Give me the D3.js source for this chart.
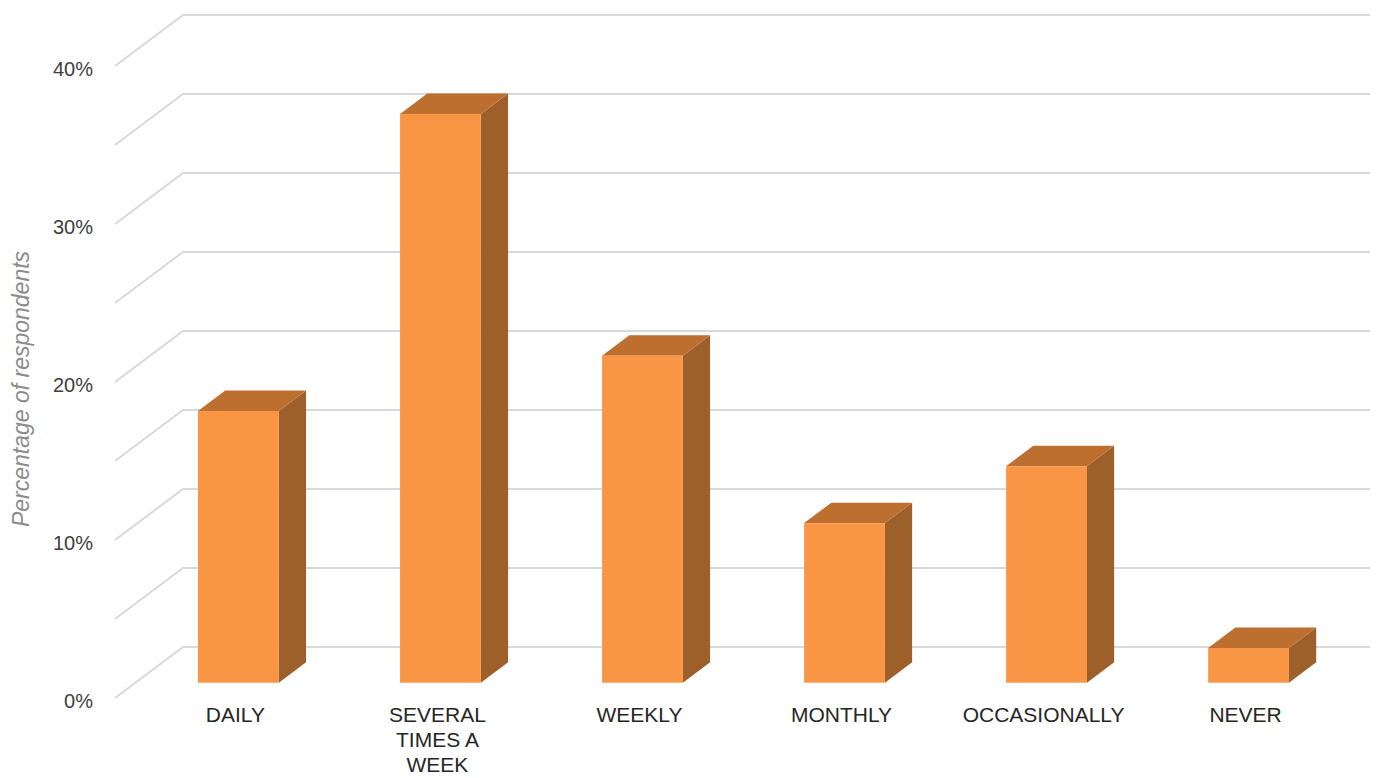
<!DOCTYPE html>
<html>
<head>
<meta charset="utf-8">
<script src="https://cdn.jsdelivr.net/npm/d3@7"></script>
<style>
  html, body { margin: 0; padding: 0; background: #fff; }
  svg { display: block; font-family: "Liberation Sans", Arial, sans-serif; }
</style>
</head>
<body>
<svg id="chart" width="1380" height="778"></svg>
<script>
// Frequency categories and share of respondents (%)
const categories = ["DAILY", "SEVERAL TIMES A WEEK", "WEEKLY", "MONTHLY", "OCCASIONALLY", "NEVER"];
const shares = [17.2, 36.0, 20.7, 10.1, 13.7, 2.2];
const gridValues = [0, 5, 10, 15, 20, 25, 30, 35, 40];
const tickLabels = [0, 10, 20, 30, 40];

const svg = d3.select("#chart");

// Oblique projection: depth axis runs up and to the right
const depth = { dx: 68, dy: -51 };
const barFront = 0.3, barBack = 0.7;   // bar slab position within the floor depth

const x = d3.scaleBand()
  .domain(categories)
  .range([115, 1302])
  .paddingInner(0.6)
  .paddingOuter(0.2377)
  .align(0.652);

const y = d3.scaleLinear().domain([0, 40]).range([698, 66]);

// project a (plane x, value, depth fraction) to screen
const px = (xv, f) => xv + depth.dx * f;
const py = (v, f) => y(v) + depth.dy * f;

const grid = svg.append("g").attr("class", "grid")
  .attr("fill", "none").attr("stroke", "#d9d9d9").attr("stroke-width", 2);

const [x0, x1] = x.range();
grid.selectAll("path")
  .data(gridValues)
  .join("path")
  .attr("d", v => `M${px(x0, 0)},${py(v, 0)}L${px(x0, 1)},${py(v, 1)}L${px(x1, 1)},${py(v, 1)}`);

// value axis labels on the front edge of the side wall
svg.append("g").attr("class", "y-axis")
  .selectAll("text")
  .data(tickLabels)
  .join("text")
  .attr("x", 93)
  .attr("y", v => y(v))
  .attr("dy", 10)
  .attr("text-anchor", "end")
  .attr("font-size", 20)
  .attr("fill", "#404040")
  .text(d => d + "%");

svg.append("text")
  .attr("transform", "translate(29,389) rotate(-90)")
  .attr("text-anchor", "middle")
  .attr("font-size", 23)
  .attr("font-style", "italic")
  .attr("fill", "#8c8c8c")
  .text("Percentage of respondents");

// 3D bars: side, top, then front face
const bars = svg.append("g").attr("class", "bars")
  .selectAll("g")
  .data(categories.map((c, i) => ({ c, v: shares[i] })))
  .join("g");

const bw = x.bandwidth();
const ddx = depth.dx * (barBack - barFront), ddy = depth.dy * (barBack - barFront);

bars.append("path")
  .attr("fill", "#9e602b")
  .attr("d", d => {
    const xr = px(x(d.c) + bw, barFront);
    const yt = py(d.v, barFront), yb = py(0, barFront);
    return `M${xr},${yt}L${xr + ddx},${yt + ddy}L${xr + ddx},${yb + ddy}L${xr},${yb}Z`;
  });

bars.append("path")
  .attr("fill", "#bd6f30")
  .attr("d", d => {
    const xl = px(x(d.c), barFront), xr = xl + bw;
    const yt = py(d.v, barFront);
    return `M${xl},${yt}L${xl + ddx},${yt + ddy}L${xr + ddx},${yt + ddy}L${xr},${yt}Z`;
  });

bars.append("rect")
  .attr("fill", "#f89646")
  .attr("x", d => px(x(d.c), barFront))
  .attr("y", d => py(d.v, barFront))
  .attr("width", bw)
  .attr("height", d => py(0, barFront) - py(d.v, barFront));

// category labels, wrapped to the band width
const wrapWidth = 115;
const labels = svg.append("g").attr("class", "x-axis")
  .selectAll("text")
  .data(categories)
  .join("text")
  .attr("text-anchor", "middle")
  .attr("font-size", 21)
  .attr("fill", "#262626")
  .attr("transform", c => `translate(${px(x(c) + bw / 2, barFront) - 3},722)`);

labels.each(function (c) {
  const t = d3.select(this);
  const words = c.split(" ");
  let line = [], lineNo = 0;
  let tspan = t.append("tspan").attr("x", 0).attr("y", 0);
  for (const w of words) {
    line.push(w);
    tspan.text(line.join(" "));
    if (tspan.node().getComputedTextLength() > wrapWidth && line.length > 1) {
      line.pop();
      tspan.text(line.join(" "));
      line = [w];
      lineNo++;
      tspan = t.append("tspan").attr("x", 0).attr("y", lineNo * 25).text(w);
    }
  }
});
</script>
</body>
</html>
